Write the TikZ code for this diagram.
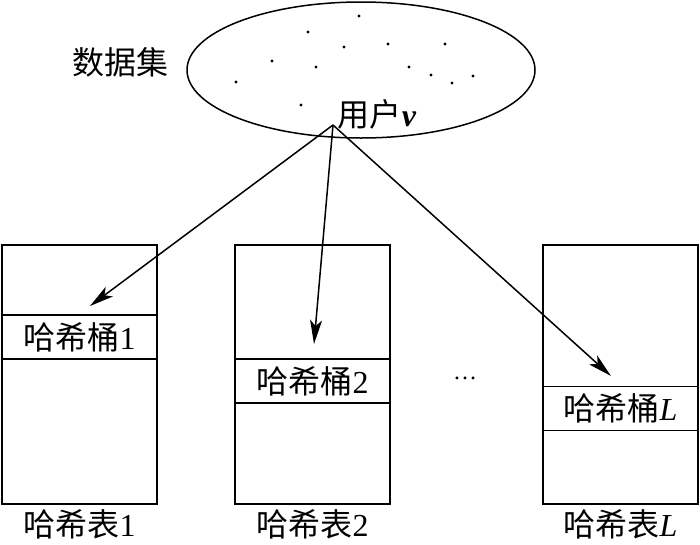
\documentclass[tikz,border=0pt]{standalone}
\usepackage{fontspec}
\setmainfont{Liberation Serif}
\newfontfamily\cjk{Noto Sans CJK SC}
\usetikzlibrary{shapes.geometric,arrows.meta}
\begin{document}
\begin{tikzpicture}[x=1pt,y=-1pt,
  lbl/.style={font=\fontsize{32}{36}\selectfont, inner sep=0pt},
  tablebox/.style={draw, line width=1.5pt, minimum width=155pt, minimum height=259pt, inner sep=0pt},
  bucket/.style={draw, line width=1.5pt, minimum width=155pt, minimum height=44pt, inner sep=0pt, font=\fontsize{32}{36}\selectfont},
  arr/.style={line width=1.5pt, -{Stealth[length=24pt,width=12pt,inset=6pt]}},
  pt/.style={circle, fill=black, inner sep=0pt, minimum size=3.4pt}]
\useasboundingbox (0,0) rectangle (700,544);
% dataset ellipse
\node[draw, ellipse, line width=1.5pt, minimum width=348pt, minimum height=136pt] (ds) at (361,70) {};
\node[lbl] (dslabel) at (120,62) {\cjk 数据集};
\foreach \i/\x/\y in {1/359/16,2/308/32,3/344/47,4/388/44,5/445/44,6/272/61,7/316/67,8/409/67,9/431/75,10/473/76,11/452/83,12/236/82,13/301/105}
  \node[pt] (p\i) at (\x,\y) {};
\node[lbl] (user) at (377,114) {\cjk 用户\rmfamily\textbf{\textit{v}}};
\coordinate (u) at (333,125);
% tables
\node[tablebox] (t1) at (79.5,374.5) {};
\node[tablebox] (t2) at (312.5,374.5) {};
\node[tablebox] (tL) at (620.5,374.5) {};
\node[bucket] (b1) at (79.5,337) {\cjk 哈希桶\rmfamily 1};
\node[bucket] (b2) at (312.5,381) {\cjk 哈希桶\rmfamily 2};
\node[bucket] (bL) at (620.5,408.5) {\cjk 哈希桶\rmfamily\textit{L}};
\node[lbl] (l1) at (79.5,524) {\cjk 哈希表\rmfamily 1};
\node[lbl] (l2) at (312.5,524) {\cjk 哈希表\rmfamily 2};
\node[lbl] (lL) at (620.5,524) {\cjk 哈希表\rmfamily\textit{L}};
\node[font=\fontsize{24}{26}\selectfont, inner sep=0pt] (dots) at (465,378) {\dots};
% arrows
\coordinate (e1) at (90,306);
\coordinate (e2) at (314,344);
\coordinate (eL) at (611,376);
\draw[arr] (u) -- (e1);
\draw[arr] (u) -- (e2);
\draw[arr] (u) -- (eL);
\end{tikzpicture}
\end{document}
